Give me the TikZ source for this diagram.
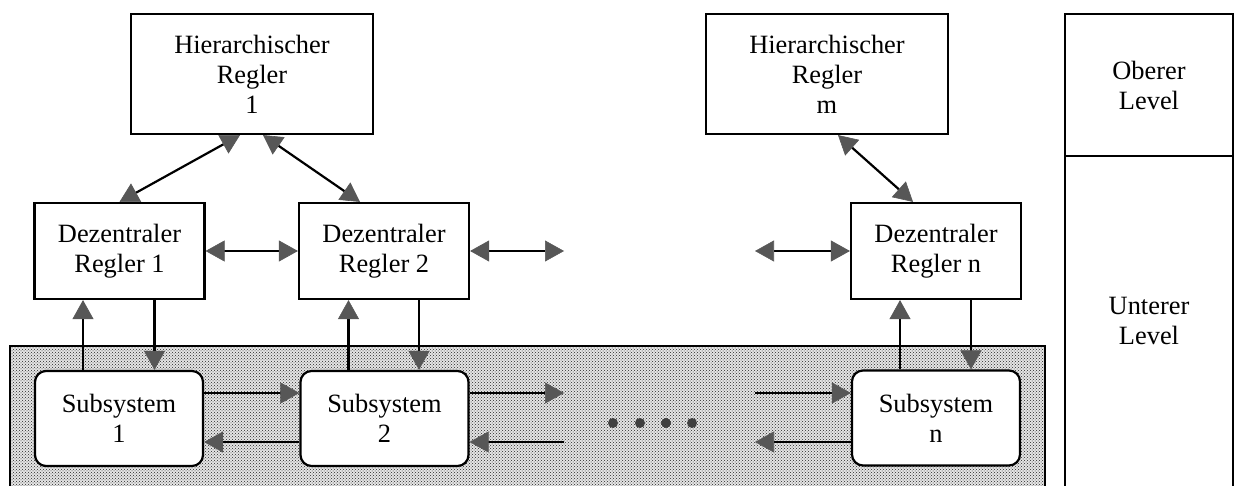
\documentclass[tikz,border=0pt]{standalone}
\usepackage{fontspec}
\setmainfont{Liberation Serif}
\usetikzlibrary{arrows.meta,patterns,calc}
\tikzset{
  lbl/.style={font=\fontsize{26.4}{30}\selectfont, align=center},
  ctrl/.style={lbl, draw, line width=2.2pt, fill=white, inner sep=0pt},
  hbox/.style={ctrl, minimum width=242pt, minimum height=120pt},
  dbox/.style={ctrl, minimum width=170pt, minimum height=96pt},
  sbox/.style={ctrl, rounded corners=11pt, minimum width=168pt, minimum height=95pt},
  arr/.style={line width=2.2pt, -{Triangle[length=19pt,width=21pt,color=black!66,line width=0.6pt]}},
  darr/.style={line width=2.2pt, {Triangle[length=19pt,width=21pt,color=black!66,line width=0.6pt]}-{Triangle[length=19pt,width=21pt,color=black!66,line width=0.6pt]}},
}
\begin{document}
\begin{tikzpicture}[x=1pt,y=-1pt]
\useasboundingbox (0,0) rectangle (1239,486);

% shaded plant region holding the subsystems
\fill[black!10] (10,486) rectangle (1045,346);
\path[pattern=crosshatch dots, pattern color=black!85] (10,486) rectangle (1045,346);
\draw[line width=2.2pt] (10,486) -- (10,346) -- (1045,346) -- (1045,486);

% level panel on the right
\draw[line width=2.2pt] (1065,486) -- (1065,14) -- (1233,14) -- (1233,486);
\draw[line width=2.2pt] (1065,156) -- (1233,156);
\node[lbl] (upper) at (1149,85) {Oberer\\Level};
\node[lbl] (lower) at (1149,321) {Unterer\\Level};

% hierarchical controllers
\node[hbox] (hr1) at (252,74) {Hierarchischer\\Regler\\1};
\node[hbox] (hrm) at (827,74) {Hierarchischer\\Regler\\m};

% decentralised controllers
\node[dbox] (dr1) at (119.5,251) {Dezentraler\\Regler 1};
\node[dbox] (dr2) at (384,251) {Dezentraler\\Regler 2};
\node[dbox] (drn) at (936,251) {Dezentraler\\Regler n};

% subsystems
\node[sbox] (s1) at (119,418.5) {Subsystem\\1};
\node[sbox] (s2) at (384.5,418.5) {Subsystem\\2};
\node[sbox] (sn) at (936,418) {Subsystem\\n};

% free ends of the open links
\coordinate (dr2r) at (564,251);
\coordinate (drnl) at (755,251);
\coordinate (s2rt) at (564,393);
\coordinate (s2rb) at (564,442);
\coordinate (snlt) at (755,393);
\coordinate (snlb) at (755,442);

% upper level to lower level
\draw[darr] ([xshift=-12pt]hr1.south) -- (dr1.north);
\draw[darr] ([xshift=11pt]hr1.south) -- ([xshift=-24pt]dr2.north);
\draw[darr] ([xshift=11pt]hrm.south) -- ([xshift=-23pt]drn.north);

% links between controllers
\draw[darr] (dr1.east) -- (dr2.west);
\draw[darr] (dr2.east) -- (dr2r);
\draw[darr] (drnl) -- (drn.west);

% measurements up, control actions down
\foreach \d/\s in {dr1/s1, dr2/s2, drn/sn}{
  \draw[arr] ([xshift=-36pt]\s.north) -- ([xshift=-36pt]\s.north |- \d.south);
  \draw[arr] ([xshift=35pt]\d.south) -- ([xshift=35pt]\d.south |- \s.north);
}

% couplings between subsystems
\draw[arr] ([yshift=25.5pt]s1.east) -- ([yshift=25.5pt]s1.east -| s2.west);
\draw[arr] ([yshift=-23.5pt]s2.west) -- ([yshift=-23.5pt]s2.west -| s1.east);
\draw[arr] ([yshift=25.5pt]s2.east) -- (s2rt);
\draw[arr] (s2rb) -- ([yshift=-23.5pt]s2.east);
\draw[arr] (snlt) -- ([yshift=25pt]sn.west);
\draw[arr] ([yshift=-24pt]sn.west) -- (snlb);

% ellipsis between subsystem 2 and subsystem n
\foreach \x in {613,640,666,692}
  \fill[black!75] (\x,423) circle (5pt);
\end{tikzpicture}
\end{document}
